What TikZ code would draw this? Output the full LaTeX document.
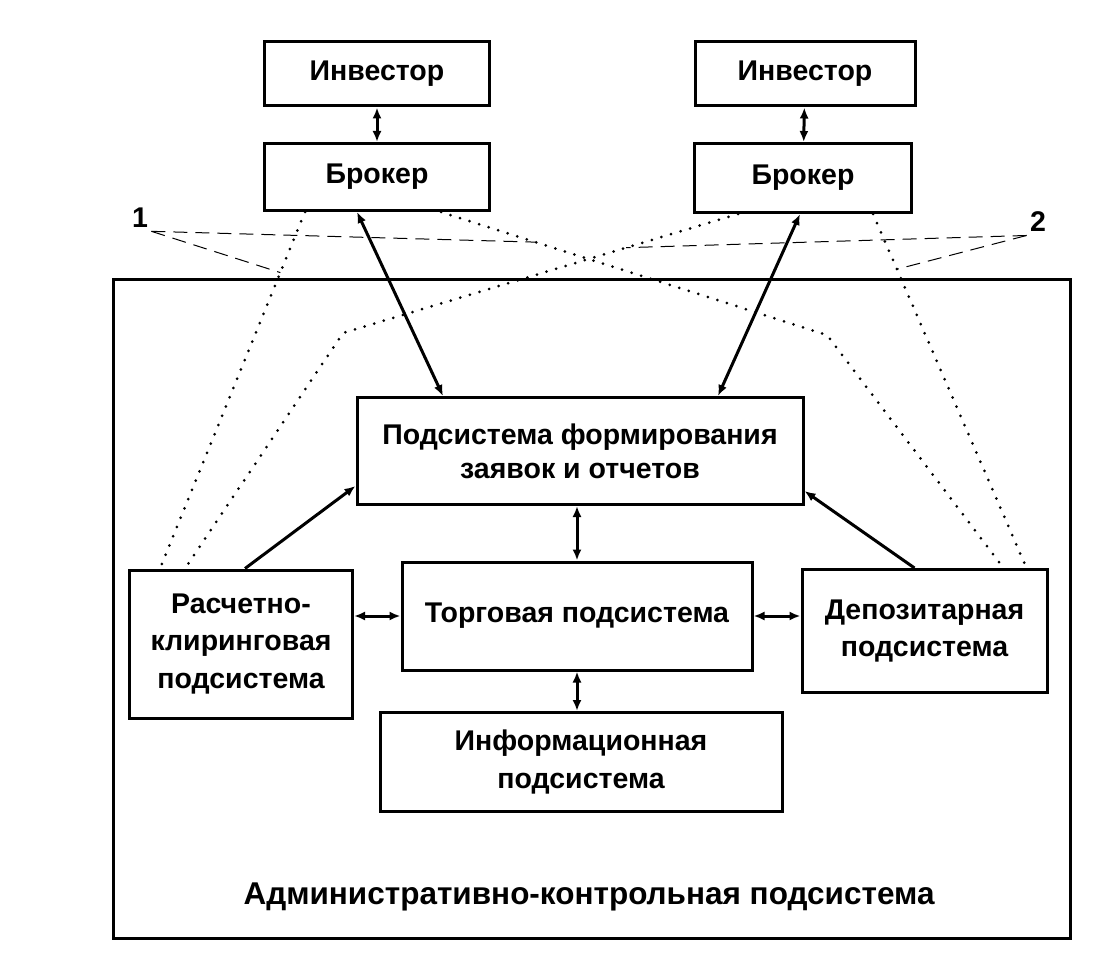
\documentclass[tikz,border=0pt]{standalone}
\usepackage{fontspec}
\setmainfont{Liberation Sans}
\usetikzlibrary{arrows.meta}
\tikzset{
  blok/.style={draw,line width=3pt,align=center,inner sep=2pt,font=\bfseries\fontsize{28.5}{37.5}\selectfont},
  dvu/.style={{Latex[length=11pt,width=9pt]}-{Latex[length=11pt,width=9pt]},line width=3pt},
  odn/.style={-{Latex[length=11pt,width=9pt]},line width=3pt},
  tochki/.style={line width=3pt,line cap=round,dash pattern=on 0pt off 10pt},
  vynoska/.style={line width=1pt,dash pattern=on 14pt off 8pt},
}
\begin{document}
\begin{tikzpicture}[x=1pt,y=-1pt]
\useasboundingbox (0,0) rectangle (1117,976);
\node[draw,line width=3pt,minimum width=957pt,minimum height=658pt] (adm) at (591.5,609) {};
\node[font=\bfseries\fontsize{31.5}{38}\selectfont] (admtext) at (589,897) {Административно-контрольная подсистема};

\node[blok,minimum width=225pt,minimum height=64pt] (inv1) at (377,74) {Инвестор};
\node[blok,minimum width=225pt,minimum height=67pt] (brk1) at (377,177) {Брокер};
\node[blok,minimum width=220pt,minimum height=64pt] (inv2) at (805,74) {Инвестор};
\node[blok,minimum width=217pt,minimum height=69pt] (brk2) at (803,178) {Брокер};

\node[blok,minimum width=446pt,minimum height=107pt,font=\bfseries\fontsize{28.5}{34}\selectfont] (form) at (580,451) {Подсистема формирования\\заявок и отчетов};
\node[blok,minimum width=223pt,minimum height=148pt] (rasch) at (241,644) {Расчетно-\\клиринговая\\подсистема};
\node[blok,minimum width=350pt,minimum height=108pt] (torg) at (577,616) {Торговая подсистема};
\node[blok,minimum width=245pt,minimum height=123pt] (depo) at (924.5,631) {Депозитарная\\подсистема};
\node[blok,minimum width=402pt,minimum height=99pt] (info) at (581,762) {Информационная\\подсистема};

\draw[dvu] (inv1) -- (brk1);
\draw[dvu] (inv2) -- (brk2);
\draw[dvu] ([xshift=-20pt]brk1.south) -- ([xshift=-137pt]form.north);
\draw[dvu] ([xshift=-3pt]brk2.south) -- ([xshift=138pt]form.north);
\draw[odn] ([xshift=4pt]rasch.north) -- ([yshift=20pt]form.south west);
\draw[odn] ([xshift=-10pt]depo.north) -- ([yshift=15pt]form.south east);
\draw[dvu] (torg.north |- form.south) -- (torg.north);
\draw[dvu] (torg.south) -- (torg.south |- info.north);
\draw[dvu] (torg.west -| rasch.east) -- (torg.west);
\draw[dvu] (torg.east) -- (torg.east -| depo.west);

\draw[tochki] ([xshift=42pt]brk1.south west) -- coordinate[pos=.17] (v1a) ([xshift=32pt]rasch.north west);
\draw[tochki] ([xshift=-50pt]brk1.south east) -- coordinate[pos=.245] (v1b) (827,335) -- ([xshift=-45pt]depo.north east);
\draw[tochki] ([xshift=45pt]brk2.south west) -- coordinate[pos=.283] (v2a) (343,333) -- ([xshift=57pt]rasch.north west);
\draw[tochki] ([xshift=-40pt]brk2.south east) -- coordinate[pos=.156] (v2b) ([xshift=-22pt]depo.north east);

\node[font=\bfseries\fontsize{28.5}{36}\selectfont] (n1) at (140,218) {1};
\node[font=\bfseries\fontsize{28.5}{36}\selectfont] (n2) at (1038,222) {2};
\draw[vynoska] (n1.south east) -- (v1a);
\draw[vynoska] (n1.south east) -- (v1b);
\draw[vynoska] (n2.south west) -- (v2a);
\draw[vynoska] (n2.south west) -- (v2b);
\end{tikzpicture}
\end{document}
